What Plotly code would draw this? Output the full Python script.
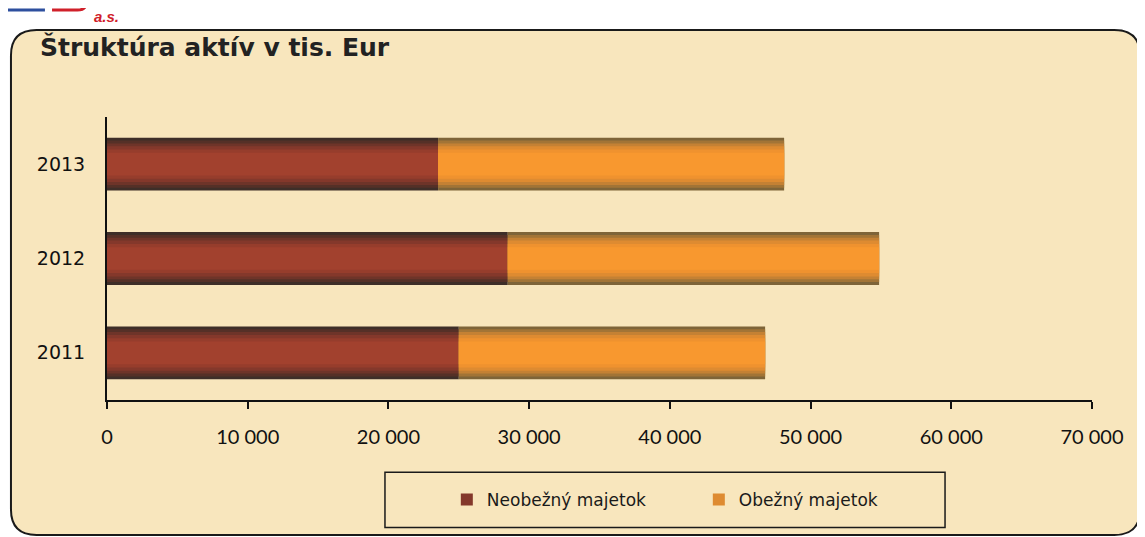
import plotly.graph_objects as go

years = ["2011", "2012", "2013"]
neobezny = [25000, 28480, 23530]
obezny = [21770, 26390, 24590]
series_names = ["Neobežný majetok", "Obežný majetok"]
x_ticks = [0, 10000, 20000, 30000, 40000, 50000, 60000, 70000]
x_tick_labels = ["0", "10 000", "20 000", "30 000", "40 000", "50 000", "60 000", "70 000"]

# gradient layers (outer -> inner)
neob_layers = ["#3e2e28", "#553027", "#6e3429", "#84382b", "#963d2c", "#a2412e"]
ob_layers = ["#7e6438", "#a27436", "#c48134", "#de8b31", "#ef922f", "#f8982f"]
widths = [0.56, 0.50, 0.44, 0.38, 0.31, 0.24]

fig = go.Figure()

# frame (rounded rectangle) in paper coordinates
L, R, T, B = -0.0975, 1.0487, 1.307, -0.477
rx, ry = 0.026, 0.09
frame = (f"M {L+rx},{T} L {R-rx},{T} Q {R},{T} {R},{T-ry} L {R},{B+ry} Q {R},{B} {R-rx},{B} "
         f"L {L+rx},{B} Q {L},{B} {L},{B+ry} L {L},{T-ry} Q {L},{T} {L+rx},{T} Z")
shapes = [
    dict(type="path", xref="paper", yref="paper", path=frame,
         fillcolor="#f8e6bd", line=dict(color="#1a1a1a", width=2), layer="below"),
    dict(type="rect", xref="paper", yref="paper", x0=0.2822, x1=0.8508, y0=-0.4504, y1=-0.2553,
         line=dict(color="#1a1a1a", width=1.5), fillcolor="rgba(0,0,0,0)", layer="below"),
    # logo fragments
    dict(type="line", xref="paper", yref="paper", x0=-0.1005, x1=-0.063, y0=1.378, y1=1.378,
         line=dict(color="#2d4f9e", width=3)),
    dict(type="path", xref="paper", yref="paper",
         path="M -0.0558,1.378 L -0.030,1.378 Q -0.024,1.378 -0.022,1.39",
         line=dict(color="#d0202a", width=3)),
]

for i, (w, c) in enumerate(zip(widths, neob_layers)):
    fig.add_trace(go.Bar(
        y=years, x=neobezny, base=[0] * len(years), orientation="h", width=w,
        marker=dict(color=c, line=dict(width=0)),
        name=series_names[0], legendgroup="neob",
        showlegend=(i == len(widths) - 3), hoverinfo="skip" if i else "x+y"))
for i, (w, c) in enumerate(zip(widths, ob_layers)):
    fig.add_trace(go.Bar(
        y=years, x=obezny, base=neobezny, orientation="h", width=w,
        marker=dict(color=c, line=dict(width=0)),
        name=series_names[1], legendgroup="ob",
        showlegend=(i == len(widths) - 3), hoverinfo="skip" if i else "x+y"))

fig.update_layout(
    width=1145, height=537,
    margin=dict(l=99, r=61, t=109, b=145),
    paper_bgcolor="white",
    plot_bgcolor="rgba(0,0,0,0)",
    barmode="overlay",
    shapes=shapes,
    showlegend=True,
    legend=dict(orientation="h", x=0.345, y=-0.353, xanchor="left", yanchor="middle",
                font=dict(family="DejaVu Sans", size=17, color="#1a1a1a"),
                bgcolor="rgba(0,0,0,0)", traceorder="normal", entrywidth=207, itemwidth=30),
    annotations=[
        dict(text="<b>Štruktúra aktív v tis. Eur</b>", xref="paper", yref="paper",
             x=-0.070, y=1.247, xanchor="left", yanchor="middle", showarrow=False,
             font=dict(family="DejaVu Sans", size=25, color="#222222")),
        dict(text="<i><b>a.s.</b></i>", xref="paper", yref="paper",
             x=-0.0152, y=1.392, xanchor="left", yanchor="top", showarrow=False,
             font=dict(family="Liberation Sans", size=15, color="#d0202a")),
    ],
    xaxis=dict(range=[0, 70000], tickvals=x_ticks, ticktext=x_tick_labels,
               showgrid=False, zeroline=False, showline=True, linecolor="#111111", linewidth=2,
               ticks="outside", ticklen=7, tickwidth=2, tickcolor="#111111",
               ticklabelstandoff=11,
               tickfont=dict(family="Lato", size=20, color="#111111")),
    yaxis=dict(showgrid=False, zeroline=False, showline=True, linecolor="#111111", linewidth=2,
               ticks="", ticklabelstandoff=16,
               tickfont=dict(family="DejaVu Sans", size=19, color="#111111")),
)

fig.write_html("out.html")
